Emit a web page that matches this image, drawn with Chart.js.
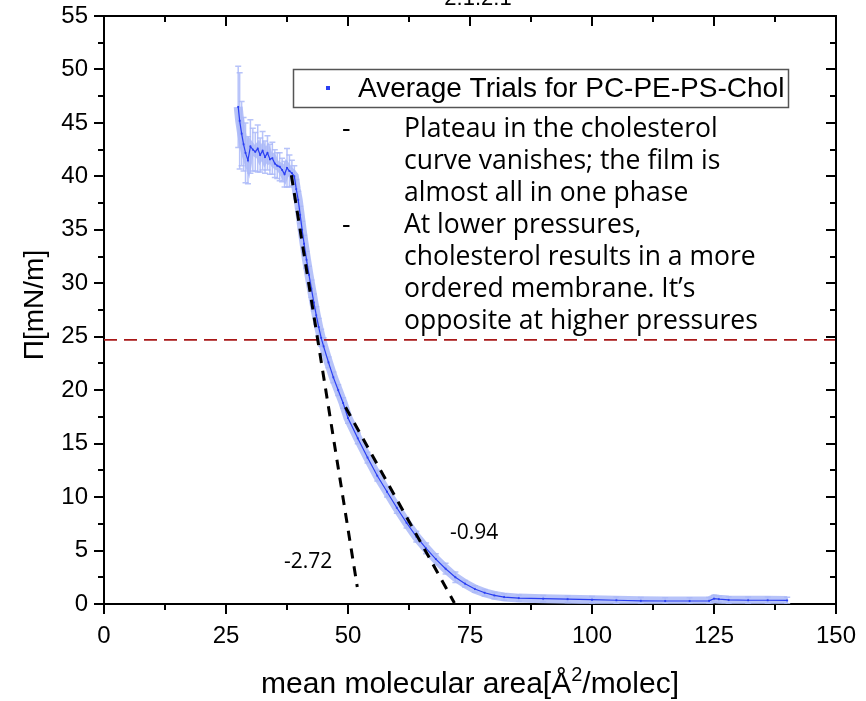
<!DOCTYPE html>
<html>
<head>
<meta charset="utf-8">
<title>PC-PE-PS-Chol isotherm</title>
<script src="https://cdn.jsdelivr.net/npm/chart.js@4.4.1/dist/chart.umd.min.js"></script>
<style>
  html, body { margin: 0; padding: 0; background: #fff; }
  #wrap { width: 866px; height: 701px; }
</style>
</head>
<body>
<div id="wrap"><canvas id="isotherm" width="866" height="701"></canvas></div>
<script>
// Averaged isotherm: mean molecular area (Å²/molec) vs surface pressure (mN/m)
const areaX = [27.5, 27.8, 28.2, 28.6, 29.0, 29.5, 30.0, 30.5, 31.0, 31.5, 32.0, 32.5, 33.0, 33.5,
  34.0, 34.5, 35.0, 35.5, 36.0, 36.5, 37.0, 37.5, 38.0, 38.5, 39.0, 39.4, 39.8, 40.2, 40.6, 41.0,
  41.5, 42.0, 42.5, 43.0, 43.5, 44.0, 44.5, 45.0, 46.0, 47.0, 48.0, 49.0, 50.0, 52.0, 54.0, 56.0,
  58.0, 60.0, 62.0, 64.0, 66.0, 68.0, 70.0, 72.0, 74.0, 76.0, 78.0, 80.0, 82.0, 85.0, 90.0, 95.0,
  100.0, 105.0, 110.0, 115.0, 120.0, 124.0, 125.0, 126.0, 128.0, 132.0, 136.0, 140.0];
const pressure = [46.5, 45.2, 44.0, 43.0, 42.2, 41.5, 42.8, 42.5, 42.3, 42.6, 42.0, 42.4, 41.8, 42.2,
  41.6, 41.7, 41.2, 41.0, 40.9, 40.6, 40.2, 40.8, 40.5, 40.3, 40.0, 38.8, 37.8, 36.4, 35.0, 33.7,
  32.2, 30.8, 29.5, 28.2, 27.0, 25.9, 24.9, 24.1, 22.6, 21.2, 20.0, 18.8, 17.4, 15.5, 13.7, 12.0,
  10.5, 9.0, 7.6, 6.3, 5.2, 4.2, 3.3, 2.5, 1.9, 1.4, 1.05, 0.8, 0.65, 0.55, 0.5, 0.45,
  0.4, 0.35, 0.3, 0.28, 0.28, 0.3, 0.5, 0.45, 0.38, 0.35, 0.35, 0.33];
const pressureErr = [3.8, 4.5, 3.0, 2.5, 2.8, 2.2, 2.5, 2.0, 1.8, 2.2, 1.6, 1.8, 1.5, 1.6,
  1.4, 1.5, 1.3, 1.2, 1.3, 1.1, 1.2, 1.8, 1.5, 1.2, 1.0, 0.9, 0.8, 0.8, 0.8, 0.8,
  0.8, 0.8, 0.8, 0.8, 0.8, 0.8, 0.8, 0.8, 0.5, 0.5, 0.5, 0.5, 0.5, 0.5, 0.5, 0.5,
  0.5, 0.5, 0.5, 0.5, 0.5, 0.5, 0.5, 0.5, 0.3, 0.3, 0.3, 0.3, 0.3, 0.3, 0.3, 0.3,
  0.3, 0.3, 0.3, 0.3, 0.3, 0.3, 0.3, 0.3, 0.3, 0.3, 0.3, 0.3];

// tangent fits (slopes -2.72 and -0.94)
const steepFitX = [38.4, 51.9];
const steepFitY = [40.1, 1.6];
const shallowFitX = [49.5, 71.8];
const shallowFitY = [18.4, 0.1];

// reference pressure line
const refLineX = [0, 150];
const refLineY = [24.7, 24.7];

const xTicks = [0, 25, 50, 75, 100, 125, 150];
const yTicks = [0, 5, 10, 15, 20, 25, 30, 35, 40, 45, 50, 55];

const blue = '#2a3ff2';
const bandBlue = 'rgba(170, 184, 248, 0.85)';
const sans = '"Liberation Sans", Arial, sans-serif';
const noteFont = '"Open Sans", "Noto Sans", sans-serif';

const toPoints = (xs, ys) => xs.map((v, i) => ({ x: v, y: ys[i] }));

// vertical error bars with caps
const errorBars = {
  id: 'errorBars',
  beforeDatasetsDraw(chart) {
    const { ctx, chartArea: a, scales: { x, y } } = chart;
    ctx.save();
    ctx.beginPath();
    ctx.rect(a.left, a.top, a.width, a.height);
    ctx.clip();
    ctx.strokeStyle = bandBlue;
    ctx.lineWidth = 1.5;
    areaX.forEach((v, i) => {
      const px = x.getPixelForValue(v);
      const top = y.getPixelForValue(pressure[i] + pressureErr[i]);
      const bot = y.getPixelForValue(pressure[i] - pressureErr[i]);
      ctx.beginPath();
      ctx.moveTo(px, top); ctx.lineTo(px, bot);
      ctx.moveTo(px - 3, top); ctx.lineTo(px + 3, top);
      ctx.moveTo(px - 3, bot); ctx.lineTo(px + 3, bot);
      ctx.stroke();
    });
    ctx.restore();
  }
};

// top/right frame and major/minor tick marks
const frameTicks = {
  id: 'frameTicks',
  afterDatasetsDraw(chart) {
    const { ctx, chartArea: a, scales: { x, y } } = chart;
    ctx.save();
    ctx.strokeStyle = '#000';
    ctx.lineWidth = 2;
    ctx.beginPath();
    ctx.moveTo(a.left - 1, a.top);
    ctx.lineTo(a.right, a.top);
    ctx.lineTo(a.right, a.bottom + 1);
    ctx.stroke();

    ctx.beginPath();
    for (let v = 0; v <= 150; v += 12.5) {
      const px = Math.round(x.getPixelForValue(v));
      const len = v % 25 === 0 ? 10 : 6;
      ctx.moveTo(px, a.bottom); ctx.lineTo(px, a.bottom + len);
      ctx.moveTo(px, a.top); ctx.lineTo(px, a.top + len);
    }
    for (let v = 0; v <= 55; v += 2.5) {
      const py = Math.round(y.getPixelForValue(v));
      const len = v % 5 === 0 ? 10 : 6;
      ctx.moveTo(a.left, py); ctx.lineTo(a.left - len, py);
      ctx.moveTo(a.right, py); ctx.lineTo(a.right - len, py);
    }
    ctx.stroke();
    ctx.restore();
  }
};

// title, legend, notes, slope labels and axis titles
const annotations = {
  id: 'annotations',
  afterDraw(chart) {
    const { ctx, chartArea: a } = chart;
    ctx.save();
    ctx.fillStyle = '#000';

    ctx.font = '22px ' + sans;
    ctx.textAlign = 'center';
    ctx.textBaseline = 'alphabetic';
    ctx.fillText('2:1:2:1', (a.left + a.right) / 2 + 8, 5);

    // legend box
    ctx.fillStyle = '#fff';
    ctx.fillRect(293, 69, 495, 38);
    ctx.strokeStyle = '#555';
    ctx.lineWidth = 1.5;
    ctx.strokeRect(293.5, 69.5, 495, 38);
    ctx.fillStyle = blue;
    ctx.fillRect(326, 86, 4, 4);
    ctx.fillStyle = '#000';
    ctx.font = '28px ' + sans;
    ctx.textAlign = 'left';
    ctx.textBaseline = 'middle';
    ctx.fillText('Average Trials for PC-PE-PS-Chol', 358, 89);

    // notes
    const notes = [
      [true, 'Plateau in the cholesterol'],
      [false, 'curve vanishes; the film is'],
      [false, 'almost all in one phase'],
      [true, 'At lower pressures,'],
      [false, 'cholesterol results in a more'],
      [false, 'ordered membrane. It’s'],
      [false, 'opposite at higher pressures']
    ];
    ctx.font = '26.5px ' + noteFont;
    ctx.textBaseline = 'alphabetic';
    notes.forEach(([dash, text], i) => {
      const base = 137 + i * 32;
      if (dash) ctx.fillText('-', 342, base);
      ctx.fillText(text, 404, base);
    });

    // slope labels
    ctx.font = '21px ' + noteFont;
    ctx.textBaseline = 'middle';
    ctx.fillText('-2.72', 284, 562);
    ctx.fillText('-0.94', 450, 533);

    // y axis title
    ctx.font = '28px ' + sans;
    ctx.save();
    ctx.translate(35, 305);
    ctx.rotate(-Math.PI / 2);
    ctx.textAlign = 'center';
    ctx.textBaseline = 'middle';
    ctx.fillText('Π[mN/m]', 0, 0);
    ctx.restore();

    // x axis title with superscript
    const parts = [['mean molecular area[Å', 30, 0], ['2', 20, -12], ['/molec]', 30, 0]];
    let total = 0;
    parts.forEach(([t, s]) => { ctx.font = s + 'px ' + sans; total += ctx.measureText(t).width; });
    let cx = 470 - total / 2;
    ctx.textAlign = 'left';
    ctx.textBaseline = 'alphabetic';
    parts.forEach(([t, s, dy]) => {
      ctx.font = s + 'px ' + sans;
      ctx.fillText(t, cx, 693 + dy);
      cx += ctx.measureText(t).width;
    });
    ctx.restore();
  }
};

new Chart(document.getElementById('isotherm'), {
  type: 'scatter',
  data: {
    datasets: [
      {
        label: 'band',
        data: toPoints(areaX, pressure),
        showLine: true,
        borderColor: bandBlue,
        borderWidth: 9,
        pointRadius: 0,
        order: 5
      },
      {
        label: 'Average Trials for PC-PE-PS-Chol',
        data: toPoints(areaX, pressure),
        showLine: true,
        borderColor: blue,
        borderWidth: 1.2,
        pointStyle: 'rect',
        pointRadius: 1.3,
        backgroundColor: blue,
        pointBorderWidth: 0,
        order: 4
      },
      {
        label: 'reference',
        data: toPoints(refLineX, refLineY),
        showLine: true,
        borderColor: '#a81818',
        borderWidth: 1.8,
        borderDash: [13, 7],
        pointRadius: 0,
        order: 3
      },
      {
        label: 'fit -2.72',
        data: toPoints(steepFitX, steepFitY),
        showLine: true,
        borderColor: '#000',
        borderWidth: 3,
        borderDash: [10, 8],
        pointRadius: 0,
        order: 2
      },
      {
        label: 'fit -0.94',
        data: toPoints(shallowFitX, shallowFitY),
        showLine: true,
        borderColor: '#000',
        borderWidth: 3,
        borderDash: [10, 8],
        pointRadius: 0,
        order: 1
      }
    ]
  },
  options: {
    responsive: false,
    animation: false,
    events: [],
    layout: { padding: { top: 16, right: 30, left: 0, bottom: 0 } },
    plugins: {
      legend: { display: false },
      tooltip: { enabled: false },
      title: { display: false }
    },
    scales: {
      x: {
        type: 'linear',
        min: 0,
        max: 150,
        afterFit: s => { s.height = 97; s.paddingLeft = 0; s.paddingRight = 0; },
        afterBuildTicks: s => { s.ticks = xTicks.map(v => ({ value: v })); },
        grid: { display: false, drawTicks: false },
        border: { display: true, color: '#000', width: 2 },
        ticks: { color: '#000', font: { family: sans, size: 24 }, padding: 18, maxRotation: 0 }
      },
      y: {
        type: 'linear',
        min: 0,
        max: 55,
        afterFit: s => { s.width = 104; s.paddingTop = 0; s.paddingBottom = 0; },
        afterBuildTicks: s => { s.ticks = yTicks.map(v => ({ value: v })); },
        grid: { display: false, drawTicks: false },
        border: { display: true, color: '#000', width: 2 },
        ticks: { color: '#000', font: { family: sans, size: 24 }, padding: 16 }
      }
    }
  },
  plugins: [errorBars, frameTicks, annotations]
});
</script>
</body>
</html>
